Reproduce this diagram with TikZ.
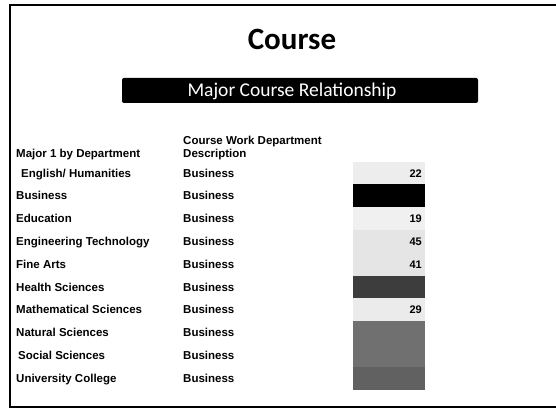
\documentclass[tikz,border=0pt]{standalone}
\usepackage{fontspec}
\setmainfont{Liberation Sans}
\newfontfamily\calib{Carlito}
\begin{document}
\begin{tikzpicture}[x=1pt,y=-1pt,
  lab/.style={anchor=base west,inner sep=0pt,yshift=-4.1pt,font=\fontsize{11.5}{12}\selectfont\bfseries},
  num/.style={anchor=base east,inner sep=0pt,yshift=-4pt,font=\fontsize{11}{12}\selectfont\bfseries},
  cell/.style={draw=none,minimum width=72pt,minimum height=22.8pt,inner sep=0pt,anchor=west}]
\useasboundingbox (0,0) rectangle (556,409);
% frame
\draw[line width=1.8pt] (562,5) -- (10,5) -- (10,407) -- (562,407);
% title
\node[anchor=base,inner sep=0pt,font=\calib\fontsize{31}{34}\selectfont\bfseries] (title) at (292,50) {Course};
\node[fill=black,rounded corners=2pt,minimum width=356pt,minimum height=25pt,inner sep=0pt] (bar) at (300,90.5) {};
\node[anchor=base,inner sep=0pt,text=white,font=\calib\fontsize{19.5}{22}\selectfont] (subtitle) at (292,97) {Major Course Relationship};
% headers
\node[lab] (h1) at (16,153) {Major 1 by Department};
\node[lab] (h2a) at (183,140) {Course Work Department};
\node[lab] (h2b) at (183,153) {Description};
% cells
\node[cell,fill=black!7] (c1) at (353,173) {};
\node[cell,fill=black] (c2) at (353,195.8) {};
\node[cell,fill=black!6] (c3) at (353,218.6) {};
\node[cell,fill=black!10] (c4) at (353,241.4) {};
\node[cell,fill=black!10] (c5) at (353,264.2) {};
\node[cell,fill=black!76] (c6) at (353,287) {};
\node[cell,fill=black!8] (c7) at (353,309.8) {};
\node[cell,fill=black!56] (c8) at (353,332.6) {};
\node[cell,fill=black!56] (c9) at (353,355.4) {};
\node[cell,fill=black!62] (c10) at (353,378.2) {};
% numbers
\node[num] (n1) at (422,173) {22};
\node[num] (n3) at (422,218.6) {19};
\node[num] (n4) at (422,241.4) {45};
\node[num] (n5) at (422,264.2) {41};
\node[num] (n7) at (422,309.8) {29};
% row labels
\node[lab] (r1) at (21,173) {English/ Humanities};
\node[lab] (r2) at (16,195.8) {Business};
\node[lab] (r3) at (16,218.6) {Education};
\node[lab] (r4) at (16,241.4) {Engineering Technology};
\node[lab] (r5) at (16,264.2) {Fine Arts};
\node[lab] (r6) at (16,287) {Health Sciences};
\node[lab] (r7) at (16,309.8) {Mathematical Sciences};
\node[lab] (r8) at (16,332.6) {Natural Sciences};
\node[lab] (r9) at (18,355.4) {Social Sciences};
\node[lab] (r10) at (16,378.2) {University College};
\foreach \i/\y in {1/173,2/195.8,3/218.6,4/241.4,5/264.2,6/287,7/309.8,8/332.6,9/355.4,10/378.2}
  \node[lab] (b\i) at (183,\y) {Business};
\end{tikzpicture}
\end{document}
